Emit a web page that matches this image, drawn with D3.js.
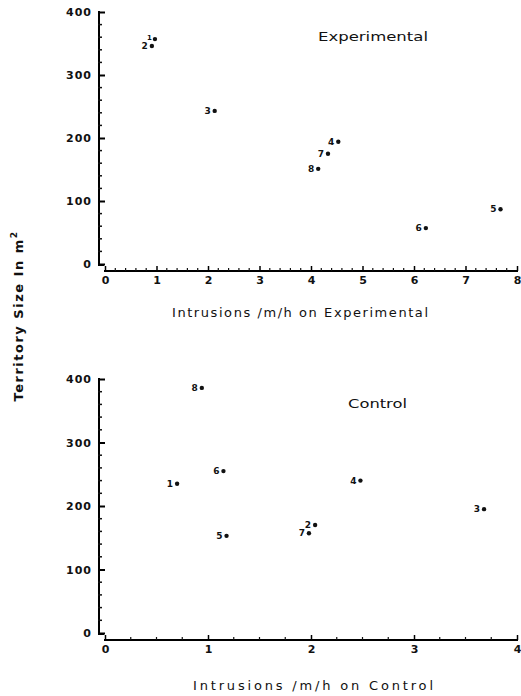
<!DOCTYPE html>
<html>
<head>
<meta charset="utf-8">
<script src="https://cdn.jsdelivr.net/npm/d3@7"></script>
<style>
  body { margin: 0; background: #fff; }
  text { font-family: "DejaVu Sans", sans-serif; fill: #111; }
</style>
</head>
<body>
<div id="vis-container"></div>
<script>
// bird numbers
const expLabels = ["1", "2", "3", "4", "5", "6", "7", "8"];
const expX = [0.97, 0.91, 2.13, 4.53, 7.68, 6.23, 4.33, 4.14];
const expY = [357, 346, 243, 194, 87, 57, 175, 151];

const ctlLabels = ["1", "2", "3", "4", "5", "6", "7", "8"];
const ctlX = [0.70, 2.04, 3.68, 2.48, 1.18, 1.15, 1.98, 0.94];
const ctlY = [235, 170, 195, 240, 153, 255, 157, 386];

const yTicks = [0, 100, 200, 300, 400];
const expXTicks = [0, 1, 2, 3, 4, 5, 6, 7, 8];
const ctlXTicks = [0, 1, 2, 3, 4];

const width = 521;
const height = 696;

const svg = d3.select('#vis-container')
  .append('svg')
  .attr('width', width)
  .attr('height', height);

function drawPanel(opts) {
  const x = d3.scaleLinear().domain(opts.xDomain).range([105, 517]);
  const y = d3.scaleLinear().domain([0, 400]).range([opts.yZero, opts.yTop]);
  const g = svg.append('g');

  // y axis (ticks point inward, labels left)
  const yAxis = g.append('g')
    .attr('transform', `translate(99,0)`)
    .call(d3.axisLeft(y).tickValues(yTicks).tickSizeInner(-6).tickSizeOuter(0).tickPadding(7));
  yAxis.select('.domain').attr('stroke-width', 2).attr('d', `M0,${y(400) - 1}V${y(0) + 1}H5`);
  yAxis.selectAll('.tick line').attr('stroke-width', 2);
  yAxis.selectAll('.tick text')
    .style('font-size', '11px').style('font-weight', 'bold')
    .attr('letter-spacing', 1).attr('dy', '0.35em');

  // minor y ticks
  g.append('g').selectAll('line')
    .data(d3.range(0, 400, 20).filter(v => v % 100 !== 0))
    .enter().append('line')
    .attr('x1', 98).attr('x2', 102)
    .attr('y1', d => y(d)).attr('y2', d => y(d))
    .attr('stroke', '#111').attr('stroke-width', 1.5);

  // x axis, slightly below zero
  const xAxis = g.append('g')
    .attr('transform', `translate(0,${opts.xAxisY})`)
    .call(d3.axisBottom(x).tickValues(opts.xTicks).tickFormat(d3.format('d'))
      .tickSizeInner(-5).tickSizeOuter(0).tickPadding(6));
  xAxis.select('.domain').attr('stroke-width', 2).attr('d', `M${x.range()[0] - 1},0H${x.range()[1] + 1}`);
  xAxis.selectAll('.tick line').attr('stroke-width', 1.5);
  xAxis.selectAll('.tick text')
    .style('font-size', '11px').style('font-weight', 'bold')
    .attr('dy', '0.6em');

  // minor x ticks
  g.append('g').selectAll('line')
    .data(d3.range(opts.xDomain[0], opts.xDomain[1], opts.minorStep).filter(v => Math.abs(v - Math.round(v)) > 1e-6))
    .enter().append('line')
    .attr('x1', d => x(d)).attr('x2', d => x(d))
    .attr('y1', opts.xAxisY).attr('y2', opts.xAxisY - 3)
    .attr('stroke', '#111').attr('stroke-width', 1.2);

  // points
  const pts = opts.xs.map((v, i) => ({ x: v, y: opts.ys[i], label: opts.labels[i] }));
  g.append('g').selectAll('circle')
    .data(pts)
    .enter().append('circle')
    .attr('cx', d => x(d.x))
    .attr('cy', d => y(d.y))
    .attr('r', 2.2)
    .attr('fill', '#111');

  // point labels; label "1" on top panel sits raised like a superscript
  g.append('g').selectAll('text')
    .data(pts)
    .enter().append('text')
    .attr('x', d => x(d.x) - (opts.raise === d.label ? 3 : 4))
    .attr('y', d => y(d.y) - (opts.raise === d.label ? 2 : 0))
    .attr('dy', '0.35em')
    .attr('text-anchor', 'end')
    .style('font-size', d => opts.raise === d.label ? '7px' : '9px')
    .style('font-weight', 'bold')
    .text(d => d.label);

  // panel title
  g.append('text')
    .attr('x', opts.titleX)
    .attr('y', opts.titleY)
    .style('font-size', '13px')
    .style('font-weight', 'normal')
    .attr('textLength', opts.titleLen)
    .attr('lengthAdjust', 'spacingAndGlyphs')
    .text(opts.title);

  // x axis title
  g.append('text')
    .attr('x', opts.xTitleX)
    .attr('y', opts.xTitleY)
    .style('font-size', '13px')
    .style('font-weight', 'normal')
    .attr('textLength', opts.xTitleLen)
    .attr('lengthAdjust', 'spacing')
    .text(opts.xTitle);
}

drawPanel({
  xDomain: [0, 8], xTicks: expXTicks, minorStep: 0.2,
  yZero: 264, yTop: 12, xAxisY: 271,
  xs: expX, ys: expY, labels: expLabels, raise: '1',
  title: 'Experimental', titleX: 318, titleY: 41, titleLen: 110,
  xTitle: 'Intrusions /m/h on Experimental', xTitleX: 172, xTitleY: 317, xTitleLen: 256
});

drawPanel({
  xDomain: [0, 4], xTicks: ctlXTicks, minorStep: 0.25,
  yZero: 633, yTop: 379, xAxisY: 640,
  xs: ctlX, ys: ctlY, labels: ctlLabels, raise: null,
  title: 'Control', titleX: 348, titleY: 408, titleLen: 59,
  xTitle: 'Intrusions /m/h on Control', xTitleX: 193, xTitleY: 690, xTitleLen: 240
});

// shared y axis title
const yTitle = svg.append('text')
  .attr('transform', 'translate(23,316) rotate(-90)')
  .attr('text-anchor', 'middle')
  .style('font-size', '13px')
  .style('font-weight', 'bold')
  .attr('letter-spacing', 1.5);
yTitle.append('tspan').text('Territory Size In m');
yTitle.append('tspan').style('font-size', '9px').attr('dy', -6).text('2');
</script>
</body>
</html>
